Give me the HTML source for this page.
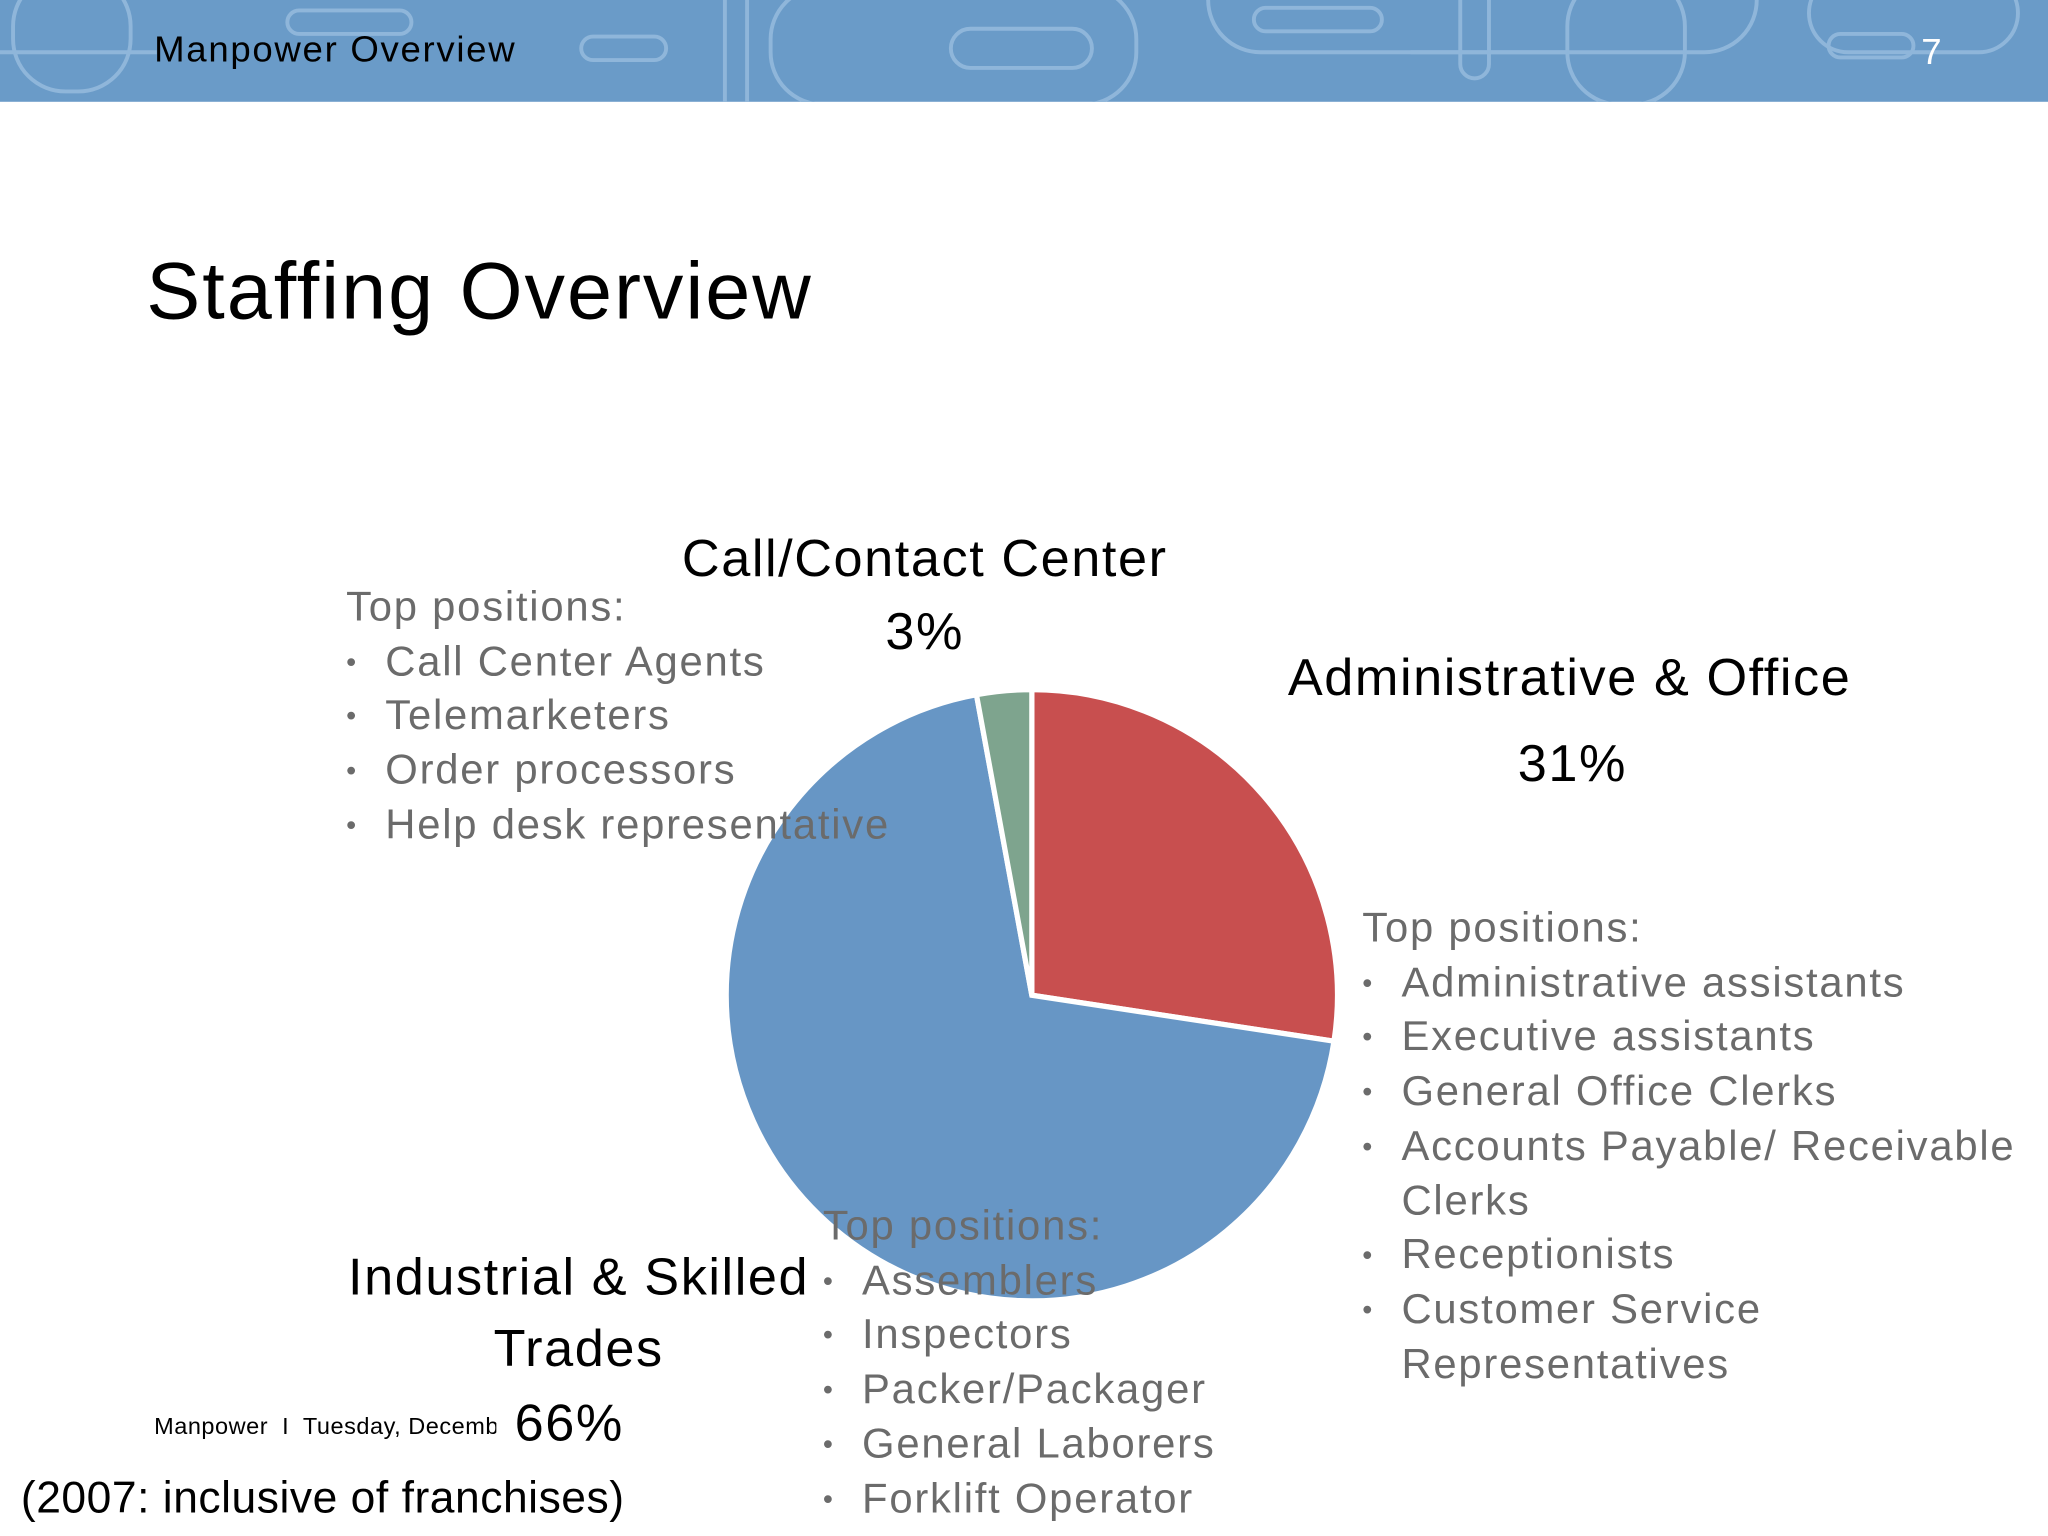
<!DOCTYPE html>
<html><head><meta charset="utf-8"><style>
html,body{margin:0;padding:0;background:#fff;}
#wrap{width:1568px;height:1176px;transform:scale(1.306122);transform-origin:0 0;position:relative;overflow:hidden;font-family:"Liberation Sans",sans-serif;}
.t{position:absolute;white-space:nowrap;}
.g{color:#6b6b6b;font-size:32px;line-height:41.7px;letter-spacing:1.35px;}
.g div{position:relative;padding-left:30px;}
.g div.h{padding-left:0;}
.g div:not(.h)::before{content:"•";position:absolute;left:0;font-size:22px;}
.k{color:#000;font-size:40px;letter-spacing:1.2px;}
</style></head><body>
<div id="wrap">
<svg width="1568" height="78" style="position:absolute;left:0;top:0">
<rect width="1568" height="78" fill="#6a9bc8"/>
<g fill="none" stroke="#8fb6da" stroke-width="3">
<rect x="10" y="-20" width="90" height="90" rx="40"/>
<rect x="220" y="8" width="95" height="18" rx="9"/>
<rect x="445" y="28" width="65" height="18" rx="9"/>
<rect x="590" y="-10" width="280" height="90" rx="40"/>
<rect x="728" y="22" width="108" height="30" rx="15"/>
<rect x="925" y="-40" width="420" height="80" rx="40"/>
<rect x="960" y="6" width="98" height="18" rx="9"/>
<rect x="1118" y="-10" width="22" height="70" rx="11"/>
<rect x="1200" y="-20" width="90" height="100" rx="40"/>
<rect x="1400" y="26" width="65" height="18" rx="9"/>
<rect x="1385" y="-20" width="160" height="60" rx="30"/>
<line x1="555" y1="0" x2="555" y2="78"/><line x1="572" y1="0" x2="572" y2="78"/>
<line x1="0" y1="40" x2="120" y2="40"/><line x1="1080" y1="40" x2="1200" y2="40"/>
</g></svg>
<div class="t" style="left:118px;top:22px;font-size:28px;color:#000;letter-spacing:1.3px">Manpower Overview</div>
<div class="t" style="left:1471px;top:24px;font-size:28px;color:#fff">7</div>
<div class="t" style="left:112px;top:188px;font-size:62px;color:#000;letter-spacing:1.5px">Staffing Overview</div>
<svg id="pie" width="1568" height="1176" style="position:absolute;left:0;top:0"></svg>
<div class="t g" style="left:265px;top:444px"><div class="h">Top positions:</div><div>Call Center Agents</div><div>Telemarketers</div><div>Order processors</div><div>Help desk representative</div></div>
<div class="t k" style="left:502px;width:412px;top:400px;text-align:center;line-height:56px">Call/Contact Center<br>3%</div>
<div class="t k" style="left:986px;top:497px">Administrative &amp; Office</div>
<div class="t k" style="left:1162px;top:563px">31%</div>
<div class="t g" style="left:1043px;top:690px"><div class="h">Top positions:</div><div>Administrative assistants</div><div>Executive assistants</div><div>General Office Clerks</div><div>Accounts Payable/ Receivable<br>Clerks</div><div>Receptionists</div><div>Customer Service<br>Representatives</div></div>
<div class="t k" style="left:243px;width:400px;top:951px;text-align:center;line-height:55px">Industrial &amp; Skilled<br>Trades</div>
<div class="t k" style="left:394px;top:1068px">66%</div>
<div class="t g" style="left:630px;top:918px"><div class="h">Top positions:</div><div>Assemblers</div><div>Inspectors</div><div>Packer/Packager</div><div>General Laborers</div><div>Forklift Operator</div></div>
<div class="t" style="left:118px;top:1082px;font-size:18px;color:#000;width:262px;overflow:hidden;background:#fff;letter-spacing:0.4px">Manpower &nbsp;I&nbsp; Tuesday, December</div>
<div class="t" style="left:16px;top:1128px;font-size:34px;color:#000;letter-spacing:0.4px">(2007: inclusive of franchises)</div>
</div>
<script>
const categories=["Administrative & Office","Industrial & Skilled Trades","Call/Contact Center"];
const values=[27.4,69.7,2.9];
const colors=["#c84f4f","#6796c5","#7ea48e"];
const cx=790,cy=762,r=234;
const svg=document.getElementById('pie');
const total=values.reduce((a,b)=>a+b,0);
let a0=0;
function pt(a){return [cx+r*Math.sin(a),cy-r*Math.cos(a)];}
values.forEach((v,i)=>{
 const a1=a0+v/total*2*Math.PI;
 const p0=pt(a0),p1=pt(a1);
 const large=(a1-a0)>Math.PI?1:0;
 const p=document.createElementNS('http://www.w3.org/2000/svg','path');
 p.setAttribute('d',`M${cx},${cy}L${p0[0]},${p0[1]}A${r},${r} 0 ${large} 1 ${p1[0]},${p1[1]}Z`);
 p.setAttribute('fill',colors[i]);
 p.setAttribute('stroke','#fff');
 p.setAttribute('stroke-width','4');
 
 
 svg.appendChild(p);
 a0=a1;
});
</script>
</body></html>
